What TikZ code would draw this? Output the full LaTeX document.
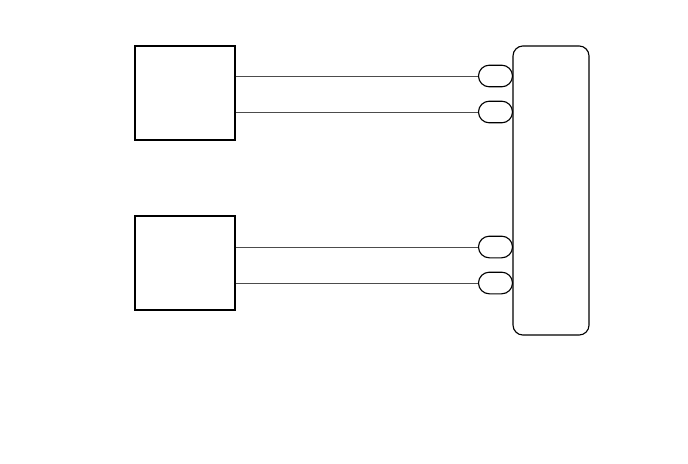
\documentclass[tikz,border=0pt]{standalone}
\usepackage{tikz}
\usetikzlibrary{positioning}

\begin{document}
\begin{tikzpicture}[
    x=0.025cm, y=-0.025cm,
    unit/.style={draw, line width=0.8pt, minimum width=2.5cm, minimum height=2.35cm, inner sep=0pt},
    hub/.style={draw, line width=0.8pt, rounded corners=0.25cm, minimum width=1.9cm, minimum height=7.225cm, inner sep=0pt},
    port/.style={draw, line width=0.8pt, rounded corners=0.27cm, minimum width=0.85cm, minimum height=0.54cm, inner sep=0pt},
    wire/.style={draw=black!70, line width=0.5pt},
]
    \useasboundingbox (0,0) rectangle (688,463);

    \node[unit] (u1) at (185, 93) {};
    \node[unit] (u2) at (185, 263) {};
    \node[hub] (hub) at (551, 190.5) {};

    \node[port] (p1) at (495.5, 76) {};
    \node[port] (p2) at (495.5, 112) {};
    \node[port] (p3) at (495.5, 247) {};
    \node[port] (p4) at (495.5, 283) {};

    \draw[wire] (u1.east |- p1.west) -- (p1.west);
    \draw[wire] (u1.east |- p2.west) -- (p2.west);
    \draw[wire] (u2.east |- p3.west) -- (p3.west);
    \draw[wire] (u2.east |- p4.west) -- (p4.west);
\end{tikzpicture}
\end{document}
